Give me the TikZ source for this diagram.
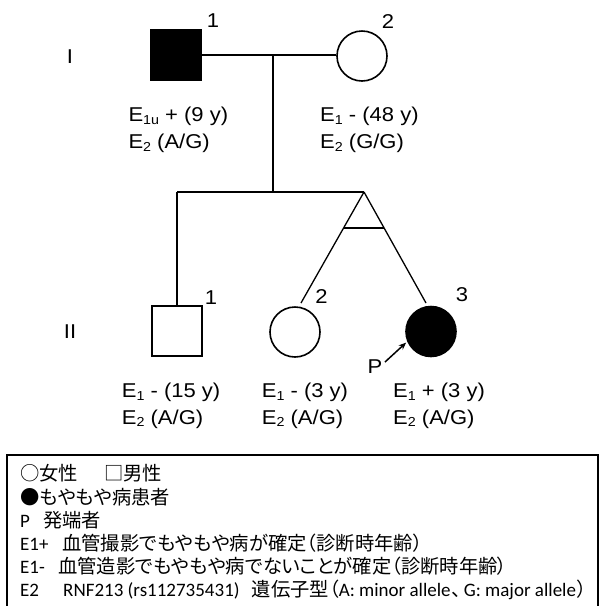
\documentclass[tikz,border=0pt]{standalone}
\usepackage{fontspec}
\setmainfont{Liberation Sans}
\newfontfamily\pedfont{Liberation Sans}[FakeStretch=1.1]
\newfontfamily\cjk{Noto Sans CJK JP}[RawFeature={+palt}]
\newfontfamily\lat{Carlito}
\usetikzlibrary{arrows.meta}
\newcommand\lowsub[1]{\raisebox{-2.7pt}{\fontsize{13}{13}\selectfont #1}}
\newcommand\jp[1]{{\cjk\fontsize{19.3}{23}\selectfont #1}}
\begin{document}
\begin{tikzpicture}[x=1pt,y=-1pt,
  ped/.style={font=\pedfont\fontsize{20}{24}\selectfont, inner sep=0pt, anchor=base west},
  num/.style={font=\pedfont\fontsize{20}{24}\selectfont, inner sep=0pt},
  leg/.style={font=\lat\fontsize{19}{23}\selectfont, inner sep=0pt, anchor=base west},
  male/.style={draw, rectangle, line width=1.6pt, minimum size=50pt, inner sep=0pt},
  female/.style={draw, circle, line width=1.6pt, minimum size=50pt, inner sep=0pt},
  affected/.style={fill=black},
  lineage/.style={line width=1.3pt},
  legbox/.style={draw, line width=1.3pt}
]
\useasboundingbox (0,0) rectangle (599,606);

% generation labels
\node[num] (genI) at (70,57) {I};
\node[num] (genII) at (70,332) {II};

% generation I
\node[male, affected] (i1) at (176,55) {};
\node[female] (i2) at (362,56) {};
\node[num] (n-i1) at (213,21) {1};
\node[num] (n-i2) at (388,21.5) {2};
\draw[lineage] (i1.east) -- (i2.west |- i1.east);
\coordinate (mate) at (273,55);
\coordinate (sibM) at (273,192);
\draw[lineage] (mate) -- (sibM);

% sibship
\coordinate (sibL) at (177,192);
\coordinate (apex) at (364,192);
\draw[lineage] (sibL) -- (apex);

% generation II
\node[male] (ii1) at (177,331) {};
\node[female] (ii2) at (295,332) {};
\node[female, affected] (ii3) at (431,331.5) {};
\node[num] (n-ii1) at (211,297.5) {1};
\node[num] (n-ii2) at (321.5,297) {2};
\node[num] (n-ii3) at (462,295) {3};
\draw[lineage] (sibL) -- (ii1.north);

% twins
\coordinate (tw2) at (301,303);
\coordinate (tw3) at (426,303);
\draw[lineage] (apex) -- (tw2);
\draw[lineage] (apex) -- (tw3);
\path (apex) -- (tw2) coordinate[pos=0.324] (bar1);
\path (apex) -- (tw3) coordinate[pos=0.324] (bar2);
\draw[lineage] (bar1) -- (bar2);

% proband
\node[num] (P) at (375,367) {P};
\coordinate (ptail) at (385,362);
\draw[line width=1.5pt, -{Stealth[length=7.5pt,width=6pt]}, shorten >=1.5pt] (ptail) -- (ii3.203);

% phenotype texts
\node[ped] (t-i1a) at (128.3,121.7) {E\lowsub{1u} + (9 y)};
\node[ped] (t-i1b) at (128.3,148.3) {E\lowsub{2} (A/G)};
\node[ped] (t-i2a) at (320,121.7) {E\lowsub{1} - (48 y)};
\node[ped] (t-i2b) at (320,148.3) {E\lowsub{2} (G/G)};
\node[ped] (t-ii1a) at (121.7,397.7) {E\lowsub{1} - (15 y)};
\node[ped] (t-ii1b) at (121.7,424) {E\lowsub{2} (A/G)};
\node[ped] (t-ii2a) at (261.7,397.7) {E\lowsub{1} - (3 y)};
\node[ped] (t-ii2b) at (261.7,424) {E\lowsub{2} (A/G)};
\node[ped] (t-ii3a) at (393,397.7) {E\lowsub{1} + (3 y)};
\node[ped] (t-ii3b) at (393,424) {E\lowsub{2} (A/G)};

% legend
\draw[legbox] (7,625) -- (7,455) -- (598,455) -- (598,625);
\node[leg] (l1a) at (20,480.5) {\jp{○女性}};
\node[leg] (l1b) at (104,480.5) {\jp{□男性}};
\node[leg] (l2) at (20,504) {\jp{●もやもや病患者}};
\node[leg] (l3a) at (20,527.5) {P};
\node[leg] (l3b) at (43,527.5) {\jp{発端者}};
\node[leg] (l4a) at (20,550.5) {E1+};
\node[leg] (l4b) at (62,550.5) {\jp{血管撮影でもやもや病が確定（診断時年齢）}};
\node[leg] (l5a) at (20,573.5) {E1-};
\node[leg] (l5b) at (58,573.5) {\jp{血管造影でもやもや病でないことが確定（診断時年齢）}};
\node[leg] (l6a) at (20,596.5) {E2};
\node[leg] (l6b) at (63,596.5) {RNF213 (rs112735431)};
\node[leg] (l6c) at (251.7,596.5) {\jp{遺伝子型（}A: minor allele\hspace{1.5pt}\jp{、}\hspace{2pt}G: major allele\hspace{1pt}\jp{）}};
\end{tikzpicture}
\end{document}
